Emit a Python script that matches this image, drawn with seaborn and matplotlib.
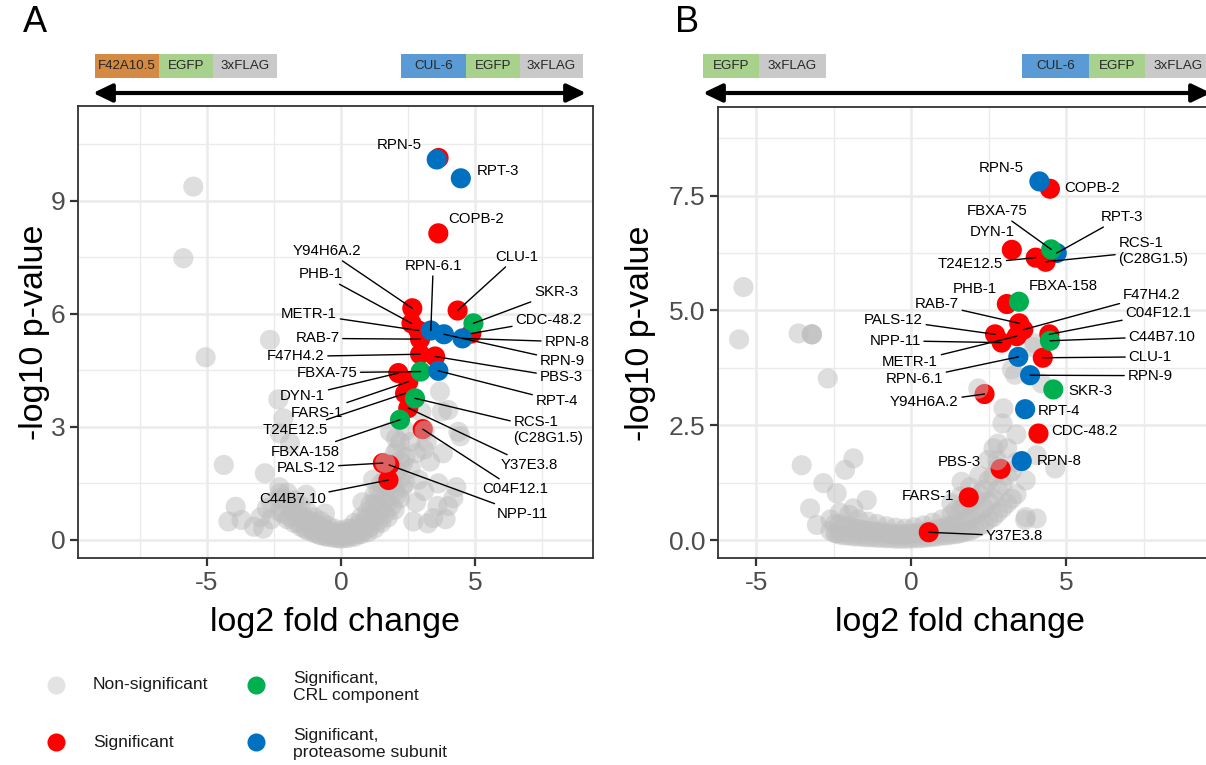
import numpy as np
import pandas as pd
import matplotlib
matplotlib.use("Agg")
import matplotlib.pyplot as plt
import seaborn as sns
from matplotlib.patches import Rectangle, FancyArrowPatch
from matplotlib.lines import Line2D

# ---------------- data: panel A (F42A10.5 vs CUL-6) ----------------
a_genes = ["", "COPB-2", "Y94H6A.2", "PHB-1", "CLU-1", "CDC-48.2", "METR-1", "RAB-7",
           "F47H4.2", "PBS-3", "DYN-1", "FARS-1", "T24E12.5", "Y37E3.8", "C04F12.1",
           "PALS-12", "NPP-11", "C44B7.10",
           "SKR-3", "FBXA-75", "RCS-1 (C28G1.5)", "FBXA-158",
           "RPN-5", "RPT-3", "RPN-6.1", "RPN-9", "RPN-8", "RPT-4"]
a_lfc = [3.64, 3.63, 2.66, 2.63, 4.35, 4.86, 2.89, 2.95,
         2.95, 3.51, 2.14, 2.51, 2.39, 2.51, 3.05,
         1.56, 1.80, 1.77,
         4.94, 2.97, 2.76, 2.20,
         3.57, 4.47, 3.35, 3.84, 4.53, 3.63]
a_nlp = [10.14, 8.14, 6.15, 5.75, 6.09, 5.48, 5.56, 5.33,
         4.93, 4.87, 4.43, 4.20, 3.89, 3.50, 2.94,
         2.04, 1.99, 1.59,
         5.75, 4.47, 3.76, 3.19,
         10.10, 9.60, 5.56, 5.46, 5.35, 4.49]
a_cat = ["sig"] * 18 + ["crl"] * 4 + ["prot"] * 6

a_gray_x = [-5.51, -5.88, -2.65, -5.05, -2.34, -2.15, -2.28, -1.90, -4.37, -2.84,
            -3.93, -4.20, -3.71, -3.25, -2.77, -2.28, 3.69, 3.76, 4.00, 4.38,
            4.45, 3.32, 3.63, 4.19, 3.44, 3.24, 2.70, 3.90, 3.60, 3.10,
            3.20, 1.83, 2.05, 3.00, -3.00, -2.90,
            -2.60, -2.60, -2.30, -2.30, -2.30, -2.00, -2.00, -2.00, -1.75, -1.75,
            -1.75, -1.50, -1.50, -1.50, -1.25, -1.25, -1.25, -1.00, -1.00, -1.00,
            -0.75, -0.75, -0.75, -0.50, -0.50, -0.50, -0.25, -0.25, -0.25, 0.00,
            0.00, 0.00, 0.25, 0.25, 0.25, 0.50, 0.50, 0.50, 0.75, 0.75,
            0.75, 1.00, 1.00, 1.00, 1.25, 1.25, 1.25, 1.25, 1.50, 1.50,
            1.50, 1.50, 1.75, 1.75, 1.75, 1.75, 2.00, 2.00, 2.00, 2.00,
            2.20, 2.20, 2.20, 2.20, 2.40, 2.40, 2.40, 2.60, 2.60, 2.80,
            2.80, 2.90, 3.10, 1.20, 0.80, -0.60, -1.30,
            -2.15, -2.15, -1.90, -1.90, -1.60, -1.60, -1.35, -1.35, -1.10, -1.10,
            -0.85, -0.85, -0.60, -0.60, -0.35, -0.35, -0.10, -0.10, 0.15, 0.15,
            0.40, 0.40, 0.65, 0.65, 0.90, 0.90, 1.10, 1.10, 1.10, 1.40,
            1.40, 1.40, 1.65, 1.65, 1.65, 1.90, 1.90, 1.90, 2.10, 2.10,
            2.10, 2.30, 2.30, 4.00, 4.30, 3.80]
a_gray_y = [9.38, 7.48, 5.31, 4.85, 3.73, 3.23, 2.83, 2.57, 1.99, 1.77,
            0.88, 0.49, 0.53, 0.35, 0.84, 1.24, 3.94, 3.41, 3.45, 2.87,
            2.75, 2.08, 1.50, 1.11, 0.58, 0.44, 0.49, 0.55, 0.90, 1.30,
            2.60, 2.87, 2.70, 3.40, 0.60, 0.30,
            0.55, 1.00, 0.75, 1.10, 1.40, 0.55, 0.90, 1.25, 0.45, 0.75,
            1.05, 0.35, 0.60, 0.90, 0.25, 0.50, 0.75, 0.18, 0.40, 0.60,
            0.12, 0.30, 0.50, 0.08, 0.22, 0.38, 0.05, 0.15, 0.30, 0.03,
            0.12, 0.25, 0.05, 0.15, 0.30, 0.08, 0.25, 0.45, 0.15, 0.35,
            0.60, 0.20, 0.45, 0.75, 0.30, 0.60, 0.95, 1.20, 0.45, 0.80,
            1.20, 1.50, 0.60, 1.00, 1.45, 1.90, 0.80, 1.30, 1.80, 2.30,
            1.10, 1.60, 2.10, 2.60, 1.50, 2.20, 2.90, 1.90, 2.60, 1.00,
            2.30, 1.60, 2.40, 1.60, 1.00, 0.70, 1.20,
            0.70, 1.10, 0.60, 0.95, 0.45, 0.75, 0.30, 0.60, 0.25, 0.50,
            0.15, 0.40, 0.10, 0.30, 0.08, 0.22, 0.05, 0.18, 0.06, 0.20,
            0.10, 0.30, 0.15, 0.40, 0.25, 0.55, 0.35, 0.65, 0.95, 0.50,
            0.90, 1.30, 0.70, 1.10, 1.60, 0.90, 1.50, 2.00, 1.20, 1.80,
            2.40, 1.40, 2.00, 0.90, 1.40, 2.30]
a_gray_front_x = [3.12, 1.65]
a_gray_front_y = [2.90, 2.05]

# ---------------- data: panel B (EGFP vs CUL-6) ----------------
b_genes = ["COPB-2", "DYN-1", "T24E12.5", "PHB-1", "RAB-7", "F47H4.2", "PALS-12", "NPP-11",
           "METR-1", "C04F12.1", "CLU-1", "Y94H6A.2", "CDC-48.2", "PBS-3", "FARS-1", "Y37E3.8",
           "RPN-5", "RPT-3", "RPN-6.1", "RPN-9", "RPT-4", "RPN-8",
           "RCS-1 (C28G1.5)",
           "FBXA-75", "FBXA-158", "C44B7.10", "SKR-3"]
b_lfc = [4.48, 3.25, 4.02, 3.09, 3.49, 3.62, 2.71, 2.92,
         3.41, 4.46, 4.25, 2.37, 4.11, 2.89, 1.86, 0.57,
         4.14, 4.70, 3.46, 3.84, 3.68, 3.57,
         4.34,
         4.52, 3.48, 4.48, 4.59]
b_nlp = [7.65, 6.32, 6.15, 5.14, 4.72, 4.58, 4.48, 4.30,
         4.44, 4.48, 3.97, 3.18, 2.32, 1.55, 0.93, 0.17,
         7.81, 6.25, 3.99, 3.59, 2.85, 1.72,
         6.06,
         6.33, 5.19, 4.34, 3.28]
b_cat = ["sig"] * 16 + ["prot"] * 6 + ["sig"] + ["crl"] * 4

b_gray_x = [-5.41, -5.55, -3.63, -3.20, -3.20, -3.20, -2.69, -3.53, -1.86, -2.13,
            -2.83, -2.40, -3.26, -3.04, -1.43, -1.86, -2.40, 4.05, 3.68, 1.63,
            4.05, 4.65, 2.66, 2.95, 2.98, 4.22, 3.25, 3.35, 4.00, 3.95,
            -2.60, -2.60, -2.30, -2.30, -2.30, -2.00, -2.00, -2.00, -1.70, -1.70,
            -1.70, -1.40, -1.40, -1.40, -1.10, -1.10, -1.10, -0.80, -0.80, -0.80,
            -0.50, -0.50, -0.50, -0.20, -0.20, -0.20, 0.10, 0.10, 0.10, 0.40,
            0.40, 0.40, 0.70, 0.70, 0.70, 1.00, 1.00, 1.00, 1.30, 1.30,
            1.30, 1.30, 1.60, 1.60, 1.60, 1.60, 1.90, 1.90, 1.90, 1.90,
            2.20, 2.20, 2.20, 2.20, 2.50, 2.50, 2.50, 2.50, 2.80, 2.80,
            2.80, 2.80, 3.10, 3.10, 3.10, 3.40, 3.40, 3.40, 3.70, 3.70,
            -2.45, -2.45, -2.15, -2.15, -1.85, -1.85, -1.55, -1.55, -1.25, -1.25,
            -0.95, -0.95, -0.65, -0.65, -0.35, -0.35, -0.05, -0.05, 0.25, 0.25,
            0.55, 0.55, 0.85, 0.85, 1.15, 1.15, 1.45, 1.45, 1.45, 1.75,
            1.75, 1.75, 2.05, 2.05, 2.05, 2.35, 2.35, 2.35, 2.65, 2.65,
            2.65, 2.95, 2.95, 3.25, 3.25]
b_gray_y = [5.51, 4.37, 4.50, 4.48, 4.48, 4.48, 3.52, 1.63, 1.78, 1.53,
            1.24, 1.02, 0.69, 0.33, 0.87, 0.69, 0.15, 0.47, 0.44, 1.27,
            1.85, 1.56, 2.00, 2.54, 2.87, 3.41, 3.72, 3.60, 4.28, 4.20,
            0.20, 0.45, 0.12, 0.35, 0.60, 0.10, 0.30, 0.55, 0.08, 0.25,
            0.45, 0.06, 0.20, 0.40, 0.05, 0.17, 0.35, 0.04, 0.15, 0.30,
            0.03, 0.12, 0.27, 0.03, 0.12, 0.25, 0.04, 0.14, 0.28, 0.05,
            0.17, 0.32, 0.07, 0.20, 0.38, 0.10, 0.25, 0.45, 0.12, 0.30,
            0.55, 0.80, 0.15, 0.38, 0.65, 0.95, 0.20, 0.45, 0.80, 1.15,
            0.30, 0.60, 1.00, 1.40, 0.45, 0.85, 1.30, 1.75, 0.60, 1.10,
            1.60, 2.10, 0.80, 1.40, 2.00, 1.00, 1.70, 2.30, 0.50, 1.30,
            0.15, 0.35, 0.10, 0.30, 0.08, 0.25, 0.07, 0.22, 0.06, 0.20,
            0.05, 0.18, 0.04, 0.15, 0.03, 0.14, 0.03, 0.14, 0.04, 0.16,
            0.06, 0.20, 0.08, 0.24, 0.10, 0.30, 0.13, 0.38, 0.65, 0.18,
            0.45, 0.75, 0.25, 0.55, 0.90, 0.35, 0.70, 1.10, 0.50, 0.90,
            1.40, 0.70, 1.20, 0.90, 1.50]
b_gray_front_x = [2.17, 2.78]
b_gray_front_y = [3.30, 1.74]

categories = ["sig", "crl", "prot"]
cat_colors = {"sig": "#FF0000", "crl": "#00B050", "prot": "#0070C0"}
gray_color = "#BEBEBE"
legend_labels = ["Non-significant", "Significant", "Significant,\nCRL component",
                 "Significant,\nproteasome subunit"]

# ---------------- layout (label positions, in data units) ----------------
a_label_pos = {
    "RPN-5": (2.18, 10.49), "RPT-3": (5.87, 9.80), "COPB-2": (5.03, 8.52),
    "Y94H6A.2": (-0.51, 7.68), "PHB-1": (-0.76, 7.06), "RPN-6.1": (3.44, 7.28),
    "CLU-1": (6.56, 7.52), "SKR-3": (8.02, 6.57), "CDC-48.2": (7.74, 5.84),
    "METR-1": (-1.19, 5.99), "RAB-7": (-0.88, 5.35), "RPN-8": (8.42, 5.26),
    "RPN-9": (8.26, 4.76), "F47H4.2": (-1.69, 4.87), "PBS-3": (8.21, 4.32),
    "FBXA-75": (-0.53, 4.44), "RPT-4": (8.05, 3.69), "DYN-1": (-1.43, 3.82),
    "FARS-1": (-0.88, 3.38), "T24E12.5": (-1.69, 2.92), "RCS-1 (C28G1.5)": (7.74, 2.92),
    "FBXA-158": (-1.34, 2.34), "PALS-12": (-1.31, 1.92), "Y37E3.8": (7.01, 1.99),
    "C04F12.1": (6.49, 1.35), "C44B7.10": (-1.82, 1.08), "NPP-11": (6.77, 0.69),
}
a_noseg = {"RPN-5", "RPT-3", "COPB-2"}
b_label_pos = {
    "RPN-5": (2.92, 8.11), "COPB-2": (5.85, 7.66), "FBXA-75": (2.79, 7.17),
    "RPT-3": (6.80, 7.04), "DYN-1": (2.62, 6.70), "RCS-1 (C28G1.5)": (7.82, 6.30),
    "T24E12.5": (1.92, 6.01), "PHB-1": (2.06, 5.46), "FBXA-158": (4.91, 5.54),
    "RAB-7": (0.83, 5.13), "F47H4.2": (7.76, 5.34), "C04F12.1": (7.98, 4.94),
    "PALS-12": (-0.57, 4.79), "C44B7.10": (8.09, 4.43), "NPP-11": (-0.52, 4.34),
    "METR-1": (-0.03, 3.87), "CLU-1": (7.71, 3.99), "RPN-6.1": (0.10, 3.51),
    "RPN-9": (7.71, 3.58), "SKR-3": (5.80, 3.25), "Y94H6A.2": (0.43, 3.00),
    "RPT-4": (4.78, 2.82), "CDC-48.2": (5.59, 2.38), "PBS-3": (1.56, 1.71),
    "RPN-8": (4.77, 1.72), "FARS-1": (0.53, 0.97), "Y37E3.8": (3.32, 0.09),
}
b_noseg = {"RPN-5", "COPB-2", "DYN-1", "PHB-1", "FBXA-158", "SKR-3", "RPT-4",
           "CDC-48.2", "PBS-3", "RPN-8", "FARS-1"}

# ---------------- figure ----------------
sns.set_theme(style="white")
plt.rcParams["font.family"] = ["Liberation Sans", "DejaVu Sans"]

W, H = 1206, 765
fig = plt.figure(figsize=(W / 100, H / 100), dpi=100)


def fx(px):
    return px / W


def fy(py):
    return 1 - py / H


def make_axes(left, right, top, bottom):
    return fig.add_axes([fx(left), fy(bottom), (right - left) / W, (bottom - top) / H])


axA = make_axes(78, 593, 106, 558)
axB = make_axes(717.7, 1213, 107, 558)


def draw_panel(ax, genes, lfc, nlp, cat, gx, gy, gfx, gfy, label_pos, noseg,
               xlim, ylim, yticks, yminor, yticklabels, xminor):
    df = pd.DataFrame({"gene": genes, "log2fc": lfc, "nlog10p": nlp, "category": cat})
    sns.scatterplot(x=gx, y=gy, color=gray_color, alpha=0.5, s=210, edgecolor="none",
                    linewidth=0, ax=ax, legend=False, zorder=2)
    sns.scatterplot(data=df, x="log2fc", y="nlog10p", hue="category", hue_order=categories,
                    palette=cat_colors, s=210, edgecolor="none", linewidth=0, ax=ax,
                    legend=False, zorder=3)
    sns.scatterplot(x=gfx, y=gfy, color=gray_color, alpha=0.5, s=210, edgecolor="none",
                    linewidth=0, ax=ax, legend=False, zorder=4)
    for g, x, y in zip(df["gene"], df["log2fc"], df["nlog10p"]):
        if g not in label_pos:
            continue
        lx, ly = label_pos[g]
        txt = g.replace(" (", "\n(")
        if g in noseg:
            ax.text(lx, ly, txt, ha="center", va="center", fontsize=10.8, color="black",
                    zorder=6)
        else:
            ax.annotate(txt, xy=(x, y), xytext=(lx, ly), textcoords="data",
                        ha="center", va="center", multialignment="left",
                        fontsize=10.8, color="black", zorder=6, annotation_clip=False,
                        arrowprops=dict(arrowstyle="-", color="black", lw=1.0,
                                        shrinkA=0, shrinkB=0))
    ax.set_xlim(*xlim)
    ax.set_ylim(*ylim)
    ax.set_xticks([-5, 0, 5])
    ax.set_xticklabels(["-5", "0", "5"])
    ax.set_xticks(xminor, minor=True)
    ax.set_yticks(yticks)
    ax.set_yticklabels(yticklabels)
    ax.set_yticks(yminor, minor=True)
    ax.set_axisbelow(True)
    ax.grid(which="major", color="#EBEBEB", lw=1.8)
    ax.grid(which="minor", color="#EBEBEB", lw=1.0)
    ax.tick_params(which="major", length=5.5, width=1.6, color="#333333",
                   labelsize=19, labelcolor="#4D4D4D", pad=3.5, bottom=True, left=True)
    ax.tick_params(which="minor", length=0)
    for sp in ax.spines.values():
        sp.set_color("#333333")
        sp.set_linewidth(1.3)
    ax.set_xlabel("")
    ax.set_ylabel("")


draw_panel(axA, a_genes, a_lfc, a_nlp, a_cat, a_gray_x, a_gray_y,
           a_gray_front_x, a_gray_front_y, a_label_pos, a_noseg,
           (-9.81, 9.40), (-0.48, 11.52), [0, 3, 6, 9], [1.5, 4.5, 7.5, 10.5],
           ["0", "3", "6", "9"], [-7.5, -2.5, 2.5, 7.5])
draw_panel(axB, b_genes, b_lfc, b_nlp, b_cat, b_gray_x, b_gray_y,
           b_gray_front_x, b_gray_front_y, b_label_pos, b_noseg,
           (-6.24, (1213 - 911) / 31.0), (-0.39, 9.43), [0, 2.5, 5, 7.5],
           [1.25, 3.75, 6.25, 8.75], ["0.0", "2.5", "5.0", "7.5"], [-2.5, 2.5, 7.5])

# axis titles
for cx in (335, 960):
    fig.text(fx(cx), fy(622), "log2 fold change", ha="center", va="center",
             fontsize=24.5, color="black")
for cx, cy in ((35, 332), (640, 333)):
    fig.text(fx(cx), fy(cy), "-log10 p-value", ha="center", va="center",
             rotation=90, fontsize=24.5, color="black")

# panel letters
fig.text(fx(35), fy(23), "A", ha="center", va="center", fontsize=26, color="black")
fig.text(fx(687), fy(23), "B", ha="center", va="center", fontsize=26, color="black")

# construct header boxes
box_colors = {"F42A10.5": "#D48A43", "EGFP": "#A9D18E", "3xFLAG": "#C9C9C9",
              "CUL-6": "#5B9BD5"}


def header_box(x0, x1, label, tx=None):
    fig.add_artist(Rectangle((fx(x0), fy(78)), (x1 - x0) / W, 24 / H,
                             transform=fig.transFigure, facecolor=box_colors[label],
                             edgecolor="none"))
    cx = (x0 + x1) / 2 if tx is None else tx
    fig.text(fx(cx), fy(66), label, ha="center", va="center", fontsize=9.6,
             color="#262626")


header_box(95, 159, "F42A10.5")
header_box(159, 213, "EGFP")
header_box(213, 277, "3xFLAG")
header_box(401, 466, "CUL-6")
header_box(466, 520, "EGFP")
header_box(520, 583, "3xFLAG")
header_box(703, 759, "EGFP")
header_box(759, 826, "3xFLAG")
header_box(1022, 1089, "CUL-6")
header_box(1089, 1145, "EGFP")
header_box(1145, 1212, "3xFLAG", tx=1178)

for x0, x1 in ((93, 586), (703, 1211)):
    fig.add_artist(FancyArrowPatch((fx(x0), fy(93)), (fx(x1), fy(93)),
                                   transform=fig.transFigure,
                                   arrowstyle="<|-|>,head_length=1.15,head_width=0.55",
                                   mutation_scale=10, lw=3.0, color="black",
                                   shrinkA=0, shrinkB=0))

# legend (manual, two columns)
leg_items = [(56, 685, "#E3E3E3", legend_labels[0], 93, 685),
             (56, 742, cat_colors["sig"], legend_labels[1], 93, 742),
             (256, 685, cat_colors["crl"], legend_labels[2], 293, 687),
             (256, 742, cat_colors["prot"], legend_labels[3], 293, 744)]
for mx, my, col, lab, tx, ty in leg_items:
    fig.add_artist(Line2D([fx(mx)], [fy(my)], marker="o", markersize=13, color=col,
                          markeredgewidth=0, linestyle="none", transform=fig.transFigure))
    fig.text(fx(tx), fy(ty), lab, ha="left", va="center", fontsize=12.6,
             color="#1A1A1A", linespacing=1.15)

fig.savefig("out.png", dpi=100)
